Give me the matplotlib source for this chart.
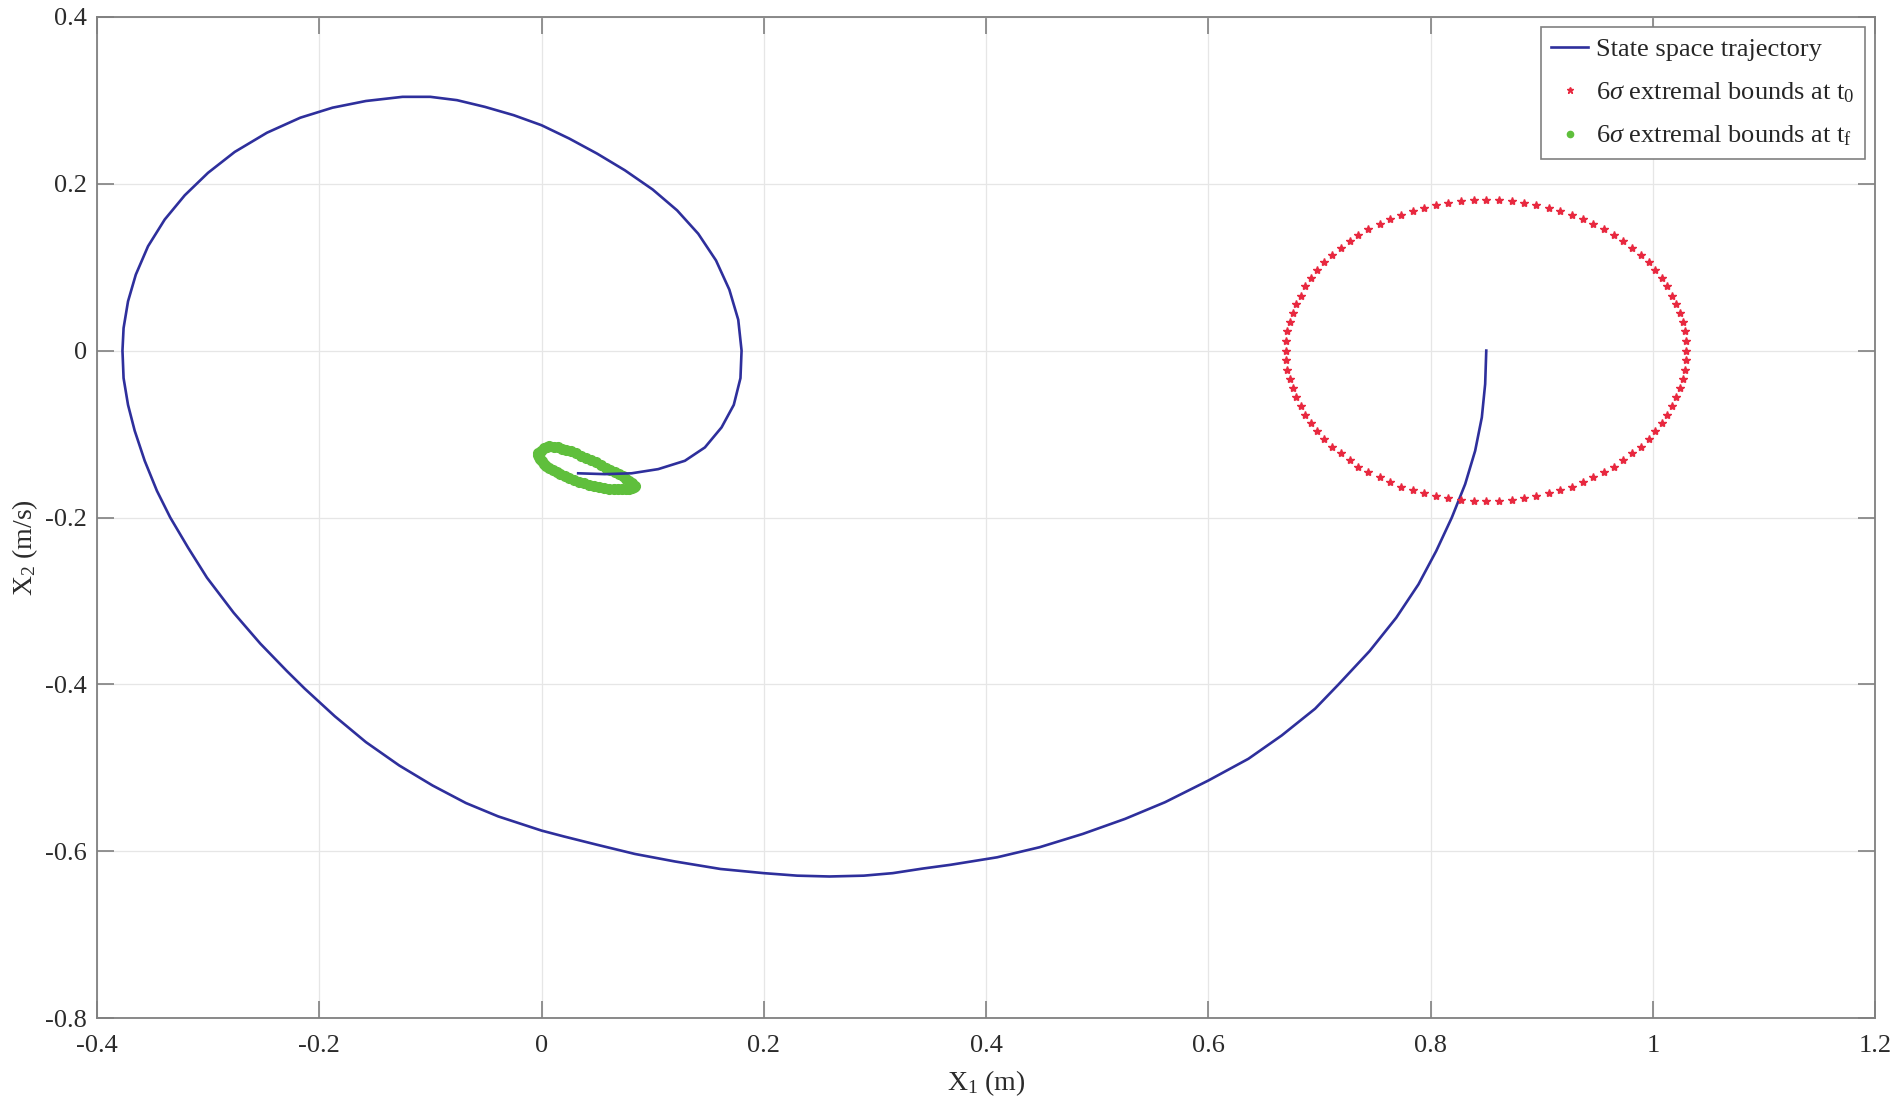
import numpy as np
import matplotlib
matplotlib.use('Agg')
import matplotlib.pyplot as plt

plt.rcParams['font.family'] = ['Liberation Serif', 'DejaVu Serif']
plt.rcParams['mathtext.fontset'] = 'custom'
plt.rcParams['mathtext.rm'] = 'Liberation Serif'
plt.rcParams['mathtext.it'] = 'Liberation Serif:italic'

# state space trajectory (start at 0.85, 0)
traj_x = [0.850, 0.849, 0.846, 0.840, 0.831, 0.819, 0.805, 0.789, 0.769, 0.745,
          0.717, 0.696, 0.666, 0.636, 0.600, 0.561, 0.525, 0.487, 0.448, 0.410,
          0.368, 0.343, 0.316, 0.290, 0.259, 0.230, 0.200, 0.161, 0.120, 0.084,
          0.050, 0.020, 0.000, -0.039, -0.068, -0.098, -0.128, -0.158, -0.186, -0.213,
          -0.229, -0.253, -0.277, -0.301, -0.318, -0.334, -0.346, -0.357, -0.366, -0.372,
          -0.376, -0.377, -0.376, -0.372, -0.365, -0.354, -0.339, -0.321, -0.300, -0.276,
          -0.247, -0.217, -0.188, -0.158, -0.125, -0.100, -0.076, -0.051, -0.025, 0.000,
          0.025, 0.050, 0.075, 0.100, 0.122, 0.141, 0.157, 0.169, 0.177, 0.180,
          0.179, 0.173, 0.162, 0.147, 0.129, 0.105, 0.081, 0.057, 0.033]
traj_y = [0.000, -0.040, -0.080, -0.120, -0.160, -0.200, -0.240, -0.280, -0.320, -0.360,
          -0.400, -0.429, -0.461, -0.489, -0.515, -0.541, -0.561, -0.579, -0.595, -0.607,
          -0.616, -0.6205, -0.626, -0.629, -0.630, -0.629, -0.626, -0.621, -0.612, -0.603,
          -0.592, -0.582, -0.575, -0.558, -0.542, -0.521, -0.497, -0.469, -0.438, -0.405,
          -0.384, -0.351, -0.314, -0.272, -0.236, -0.200, -0.168, -0.132, -0.096, -0.065,
          -0.033, 0.000, 0.027, 0.059, 0.091, 0.125, 0.157, 0.186, 0.213, 0.238,
          0.261, 0.279, 0.291, 0.299, 0.304, 0.304, 0.300, 0.292, 0.282, 0.270,
          0.254, 0.236, 0.216, 0.193, 0.168, 0.140, 0.108, 0.073, 0.037, 0.000,
          -0.033, -0.065, -0.092, -0.116, -0.132, -0.142, -0.147, -0.148, -0.147]

# 6 sigma bounds at t0 (red points around the start)
t0_x = [1.030, 1.030, 1.029, 1.027, 1.024, 1.021, 1.017, 1.013, 1.008, 1.002,
        0.996, 0.989, 0.981, 0.973, 0.965, 0.956, 0.946, 0.937, 0.927, 0.916,
        0.906, 0.895, 0.884, 0.873, 0.861,
        0.850, 0.839, 0.827, 0.816, 0.805, 0.794, 0.784, 0.773, 0.763, 0.754,
        0.744, 0.735, 0.727, 0.719, 0.711, 0.704, 0.698, 0.692, 0.687, 0.683,
        0.679, 0.676, 0.673, 0.671, 0.670,
        0.670, 0.670, 0.671, 0.673, 0.676, 0.679, 0.683, 0.687, 0.692, 0.698,
        0.704, 0.711, 0.719, 0.727, 0.735, 0.744, 0.754, 0.763, 0.773, 0.784,
        0.794, 0.805, 0.816, 0.827, 0.839,
        0.850, 0.861, 0.873, 0.884, 0.895, 0.906, 0.916, 0.927, 0.937, 0.946,
        0.956, 0.965, 0.973, 0.981, 0.989, 0.996, 1.002, 1.008, 1.013, 1.017,
        1.021, 1.024, 1.027, 1.029, 1.030]
t0_y = [0.000, 0.011, 0.023, 0.034, 0.045, 0.056, 0.066, 0.077, 0.087, 0.096,
        0.106, 0.115, 0.123, 0.131, 0.139, 0.146, 0.152, 0.158, 0.163, 0.167,
        0.171, 0.174, 0.177, 0.179, 0.180,
        0.180, 0.180, 0.179, 0.177, 0.174, 0.171, 0.167, 0.163, 0.158, 0.152,
        0.146, 0.139, 0.131, 0.123, 0.115, 0.106, 0.096, 0.087, 0.077, 0.066,
        0.056, 0.045, 0.034, 0.023, 0.011,
        0.000, -0.011, -0.023, -0.034, -0.045, -0.056, -0.066, -0.077, -0.087, -0.096,
        -0.106, -0.115, -0.123, -0.131, -0.139, -0.146, -0.152, -0.158, -0.163, -0.167,
        -0.171, -0.174, -0.177, -0.179, -0.180,
        -0.180, -0.180, -0.179, -0.177, -0.174, -0.171, -0.167, -0.163, -0.158, -0.152,
        -0.146, -0.139, -0.131, -0.123, -0.115, -0.106, -0.096, -0.087, -0.077, -0.066,
        -0.056, -0.045, -0.034, -0.023, -0.011]

# 6 sigma bounds at tf (green band round the end point)
tf_x = [-0.003, -0.0005, 0.002, 0.0045, 0.007, 0.011, 0.015, 0.0185, 0.022, 0.0265,
        0.031, 0.0355, 0.040, 0.0445, 0.049, 0.0535, 0.058, 0.062, 0.066, 0.0695,
        0.073, 0.076, 0.079, 0.0815, 0.084, 0.083, 0.081, 0.0785, 0.076, 0.0725,
        0.069, 0.065, 0.061, 0.0565, 0.052, 0.0475, 0.043, 0.0385, 0.034, 0.0295,
        0.025, 0.021, 0.017, 0.0135, 0.010, 0.007, 0.004, 0.002, 0.000, -0.001,
        -0.002, -0.0028]
tf_y = [-0.1225, -0.1198, -0.117, -0.1158, -0.1146, -0.1153, -0.116, -0.1173, -0.1186, -0.1208,
        -0.123, -0.1258, -0.1285, -0.1313, -0.134, -0.1373, -0.1405, -0.143, -0.1455, -0.148,
        -0.1505, -0.1533, -0.156, -0.1588, -0.1617, -0.164, -0.165, -0.1655, -0.1657, -0.1659,
        -0.166, -0.1659, -0.1657, -0.1645, -0.163, -0.1618, -0.1605, -0.1588, -0.157, -0.1548,
        -0.1525, -0.1503, -0.148, -0.1453, -0.1425, -0.1403, -0.138, -0.1353, -0.1326, -0.1303,
        -0.128, -0.1253]

xticks = [-0.4, -0.2, 0, 0.2, 0.4, 0.6, 0.8, 1.0, 1.2]
xtick_labels = ['-0.4', '-0.2', '0', '0.2', '0.4', '0.6', '0.8', '1', '1.2']
yticks = [-0.8, -0.6, -0.4, -0.2, 0, 0.2, 0.4]
ytick_labels = ['-0.8', '-0.6', '-0.4', '-0.2', '0', '0.2', '0.4']

fig = plt.figure(figsize=(19, 11.13), dpi=100)
ax = fig.add_axes([0.051, 0.085, 0.936, 0.9])

ax.plot(traj_x, traj_y, color='#2e2f9c', lw=1.9, label='State space trajectory',
        solid_joinstyle='round', zorder=3)
ax.plot(t0_x, t0_y, ls='none', marker='*', ms=6, color='#e8283f',
        label=r'6$\sigma$ extremal bounds at t$_0$', zorder=4)
ax.plot(tf_x, tf_y, ls='none', marker='o', ms=7, color='#5fbf3c', mec='#5fbf3c',
        label=r'6$\sigma$ extremal bounds at t$_\mathrm{f}$', zorder=2)

ax.set_xlim(-0.4, 1.2)
ax.set_ylim(-0.8, 0.4)
ax.set_xticks(xticks)
ax.set_xticklabels(xtick_labels)
ax.set_yticks(yticks)
ax.set_yticklabels(ytick_labels)
ax.grid(True, color='#e6e6e6', lw=0.9)
ax.set_axisbelow(True)

for s in ax.spines.values():
    s.set_color('#808080')
    s.set_linewidth(1.3)
ax.tick_params(direction='in', length=12, width=1.2, color='#808080',
               top=True, right=True, labelsize=19, labelcolor='#2b2b2b')
ax.tick_params(axis='x', pad=12)
ax.tick_params(axis='y', pad=7)

ax.set_xlabel(r'X$_1$ (m)', fontsize=20, color='#2b2b2b', labelpad=8)
ax.set_ylabel(r'X$_2$ (m/s)', fontsize=20, color='#2b2b2b')
ax.yaxis.set_label_coords(-0.032, 0.47)

leg = ax.legend(loc='upper right', fontsize=19, frameon=True, fancybox=False,
                edgecolor='#808080', framealpha=1, handlelength=1.4, handletextpad=0.3,
                borderpad=0.4, labelspacing=0.72, borderaxespad=0.4)
leg.get_frame().set_linewidth(1.2)
for h in leg.legend_handles[1:]:
    h.set_markersize(4.5)
for t in leg.get_texts():
    t.set_color('#262626')

fig.savefig('out.png', dpi=100)
